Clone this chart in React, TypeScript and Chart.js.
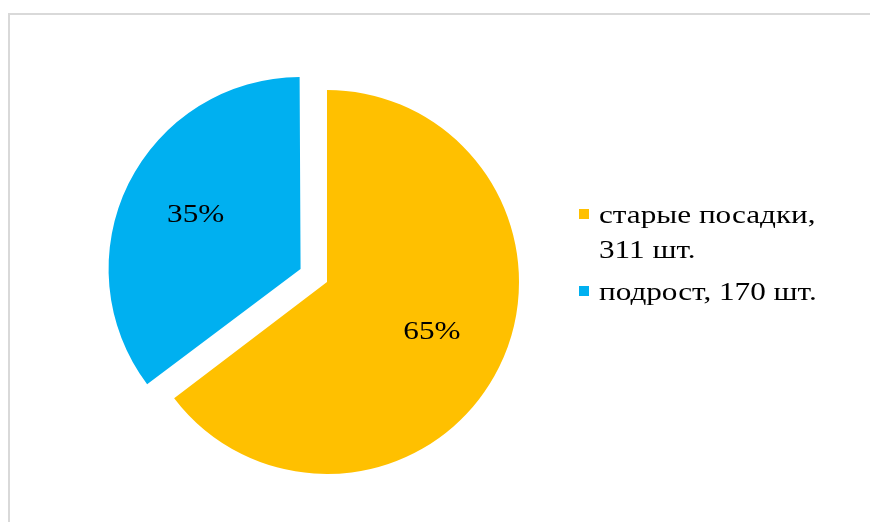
import React, { useEffect, useRef } from "react";
import { Chart, registerables } from "chart.js";

Chart.register(...registerables);

const categories = ["старые посадки", "подрост"];
const values = [311, 170];
const unit = "шт.";
const colors = ["#FFC000", "#00B0F0"];
const offsets = [0, 118];

const R = 192;
const FONT = "'Liberation Serif', 'Times New Roman', serif";
const SX = 1.2;

function wideText(ctx: any, text: string, x: number, y: number) {
  ctx.save();
  ctx.translate(x, y);
  ctx.scale(SX, 1);
  ctx.fillText(text, 0, 0);
  ctx.restore();
}

const fixRadiusPlugin = {
  id: "fixRadius",
  beforeDatasetsDraw(chart: any) {
    const meta = chart.getDatasetMeta(0);
    meta.data.forEach((arc: any, i: number) => {
      const o = (offsets[i] || 0) / 4;
      const fix = 1 - Math.sin(Math.min(Math.PI, arc.circumference || 0));
      arc.outerRadius = R - o * fix;
    });
  },
};

const labelsPlugin = {
  id: "pctLabels",
  afterDatasetsDraw(chart: any) {
    const ctx = chart.ctx;
    const meta = chart.getDatasetMeta(0);
    const total = values.reduce((a, b) => a + b, 0);
    ctx.save();
    ctx.font = `26px ${FONT}`;
    ctx.fillStyle = "#000";
    ctx.textAlign = "center";
    ctx.textBaseline = "middle";
    meta.data.forEach((arc: any, i: number) => {
      const mid = (arc.startAngle + arc.endAngle) / 2;
      const d = (offsets[i] || 0) / 4 + 0.61 * R;
      const x = arc.x + Math.cos(mid) * d;
      const y = arc.y + Math.sin(mid) * d - 2;
      wideText(ctx, `${Math.round((values[i] / total) * 100)}%`, x, y);
    });
    ctx.restore();
  },
};

const legendPlugin = {
  id: "customLegend",
  afterDraw(chart: any) {
    const ctx = chart.ctx;
    ctx.save();
    ctx.font = `26px ${FONT}`;
    ctx.textAlign = "left";
    ctx.textBaseline = "alphabetic";
    const maxW = 240;
    const textX = 599;
    let baseline = 223;
    categories.forEach((cat, i) => {
      const words = `${cat}, ${values[i]} ${unit}`.split(" ");
      const lines: string[] = [];
      let cur = "";
      words.forEach((w) => {
        const t = cur ? cur + " " + w : w;
        if (cur && ctx.measureText(t).width * SX > maxW) {
          lines.push(cur);
          cur = w;
        } else cur = t;
      });
      if (cur) lines.push(cur);
      ctx.fillStyle = colors[i];
      ctx.fillRect(579, baseline - 14, 10, 10);
      ctx.fillStyle = "#000";
      lines.forEach((ln, j) => {
        wideText(ctx, ln, textX, baseline + j * 35);
      });
      baseline += (lines.length - 1) * 35 + 42;
    });
    ctx.restore();
  },
};

export default function App() {
  const ref = useRef<HTMLCanvasElement | null>(null);
  useEffect(() => {
    if (!ref.current) return;
    const chart = new Chart(ref.current, {
      type: "pie",
      data: {
        labels: categories,
        datasets: [
          {
            data: values,
            backgroundColor: colors,
            borderWidth: 0,
            offset: offsets,
          } as any,
        ],
      },
      options: {
        responsive: false,
        animation: false,
        events: [],
        radius: R,
        layout: { padding: { left: 0, right: 216, top: 42, bottom: 0 } },
        plugins: {
          legend: { display: false },
          tooltip: { enabled: false },
        },
      } as any,
      plugins: [fixRadiusPlugin, labelsPlugin, legendPlugin],
    });
    return () => chart.destroy();
  }, []);
  return (
    <div style={{ position: "fixed", left: 0, top: 0, width: 870, height: 522, background: "#fff", overflow: "hidden" }}>
      <div
        style={{
          position: "absolute",
          left: 8,
          top: 13,
          right: 0,
          bottom: 0,
          borderTop: "2px solid #d9d9d9",
          borderLeft: "2px solid #d9d9d9",
        }}
      />
      <canvas ref={ref} width={870} height={522} style={{ position: "absolute", left: 0, top: 0 }} />
    </div>
  );
}
